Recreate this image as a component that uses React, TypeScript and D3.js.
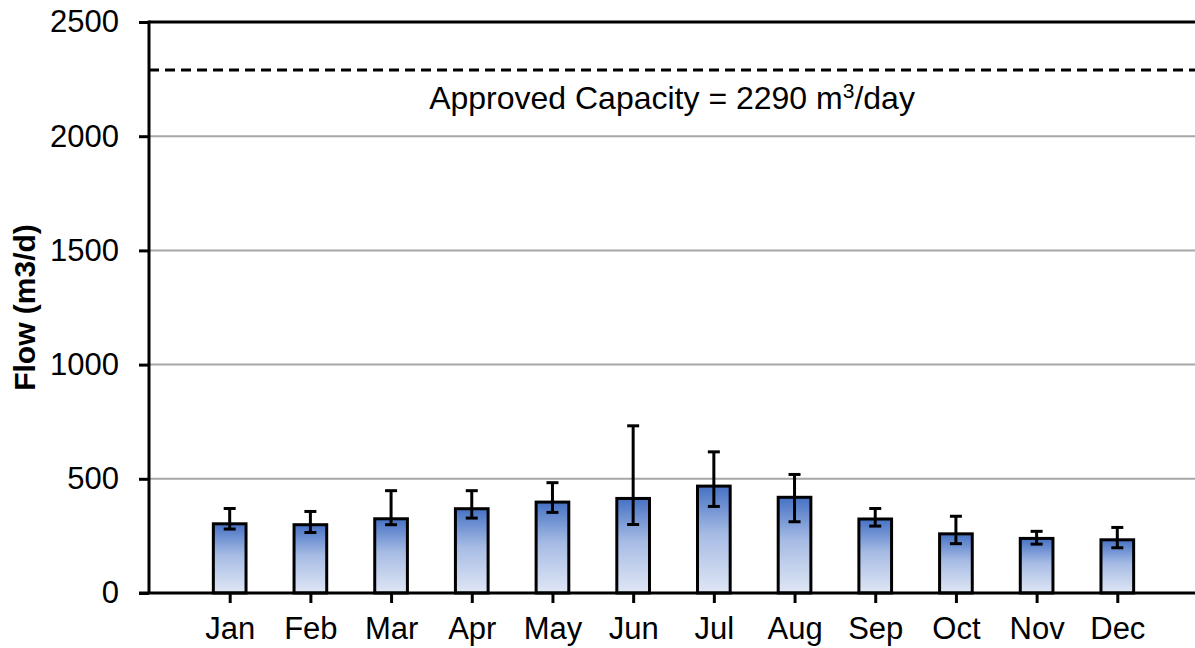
import { useEffect, useRef } from "react";
import * as d3 from "d3";

const months = ["Jan", "Feb", "Mar", "Apr", "May", "Jun", "Jul", "Aug", "Sep", "Oct", "Nov", "Dec"];
const meanFlow = [303, 299, 325, 369, 398, 414, 468, 419, 324, 259, 239, 233];
const errHigh = [370, 357, 448, 448, 483, 732, 618, 519, 370, 336, 270, 287];
const errLow = [280, 265, 299, 328, 353, 300, 379, 312, 293, 216, 214, 198];
const yTicks = [0, 500, 1000, 1500, 2000, 2500];
const approvedCapacity = 2290;

export default function App() {
  const ref = useRef<SVGSVGElement | null>(null);

  useEffect(() => {
    if (!ref.current) return;
    const W = 1195;
    const H = 648;
    const left = 149;
    const right = 1198;
    const top = 22;
    const bottom = 593;
    const font = "Arial, 'Liberation Sans', sans-serif";

    const root = d3.select(ref.current);
    root.selectAll("*").remove();
    root.attr("width", W).attr("height", H);

    const defs = root.append("defs");
    const grad = defs
      .append("linearGradient")
      .attr("id", "barGrad")
      .attr("x1", 0)
      .attr("y1", 0)
      .attr("x2", 0)
      .attr("y2", 1);
    grad.append("stop").attr("offset", "0%").attr("stop-color", "#4571c4");
    grad.append("stop").attr("offset", "45%").attr("stop-color", "#a6bbe4");
    grad.append("stop").attr("offset", "100%").attr("stop-color", "#e0e7f5");

    const x = d3.scalePoint<string>().domain(months).range([left, right]).padding(1);
    const y = d3.scaleLinear().domain([0, 2500]).range([bottom, top]);
    const barW = x.step() * 0.405;

    // gridlines
    root
      .append("g")
      .selectAll("line")
      .data(yTicks.filter((t) => t > 0 && t < 2500))
      .join("line")
      .attr("x1", left)
      .attr("x2", W)
      .attr("y1", (d) => y(d))
      .attr("y2", (d) => y(d))
      .attr("stroke", "#a6a6a6")
      .attr("stroke-width", 2);

    // top border
    root
      .append("line")
      .attr("x1", left)
      .attr("x2", W)
      .attr("y1", y(2500))
      .attr("y2", y(2500))
      .attr("stroke", "#000")
      .attr("stroke-width", 3);

    // approved capacity line
    root
      .append("line")
      .attr("x1", left)
      .attr("x2", W)
      .attr("y1", y(approvedCapacity))
      .attr("y2", y(approvedCapacity))
      .attr("stroke", "#000")
      .attr("stroke-width", 3)
      .attr("stroke-dasharray", "10,6");

    const label = root
      .append("text")
      .attr("x", (left + W) / 2)
      .attr("y", y(approvedCapacity) + 39)
      .attr("text-anchor", "middle")
      .attr("font-family", font)
      .attr("font-size", 32)
      .attr("fill", "#000");
    label.append("tspan").text("Approved Capacity = 2290 m");
    label.append("tspan").attr("font-size", 21).attr("dy", -11).text("3");
    label.append("tspan").attr("dy", 11).text("/day");

    // bars
    root
      .append("g")
      .selectAll("rect")
      .data(months)
      .join("rect")
      .attr("x", (d) => (x(d) as number) - barW / 2)
      .attr("y", (_, i) => y(meanFlow[i]))
      .attr("width", barW)
      .attr("height", (_, i) => bottom - y(meanFlow[i]))
      .attr("fill", "url(#barGrad)")
      .attr("stroke", "#000")
      .attr("stroke-width", 3);

    // error bars
    const eb = root.append("g").attr("stroke", "#000").attr("stroke-width", 3);
    months.forEach((m, i) => {
      const cx = x(m) as number;
      eb.append("line").attr("x1", cx).attr("x2", cx).attr("y1", y(errLow[i])).attr("y2", y(errHigh[i]));
      [errLow[i], errHigh[i]].forEach((v) => {
        eb.append("line")
          .attr("x1", cx - 6)
          .attr("x2", cx + 6)
          .attr("y1", y(v))
          .attr("y2", y(v));
      });
    });

    // y axis
    const yAxis = root
      .append("g")
      .attr("transform", `translate(${left},0)`)
      .call(d3.axisLeft(y).tickValues(yTicks).tickFormat(d3.format("d")).tickSize(10).tickPadding(20));
    yAxis.select(".domain").attr("stroke-width", 3).attr("d", `M0,${top - 1.5}V${bottom}`);
    yAxis.selectAll(".tick line").attr("stroke-width", 3);
    yAxis.selectAll("text").attr("font-family", font).attr("font-size", 31).attr("fill", "#000");

    // x axis
    const xAxis = root
      .append("g")
      .attr("transform", `translate(0,${bottom})`)
      .call(d3.axisBottom(x).tickSize(10).tickPadding(14));
    xAxis.select(".domain").attr("stroke-width", 3).attr("d", `M${left - 10},0H${W}`);
    xAxis.selectAll(".tick line").attr("stroke-width", 3);
    xAxis.selectAll("text").attr("font-family", font).attr("font-size", 31).attr("fill", "#000");

    // y axis title
    root
      .append("text")
      .attr("transform", `translate(35,${(top + bottom) / 2}) rotate(-90)`)
      .attr("text-anchor", "middle")
      .attr("font-family", font)
      .attr("font-size", 30)
      .attr("font-weight", "bold")
      .text("Flow (m3/d)");
  }, []);

  return <svg ref={ref} style={{ position: "absolute", left: 0, top: 0, display: "block" }} />;
}
